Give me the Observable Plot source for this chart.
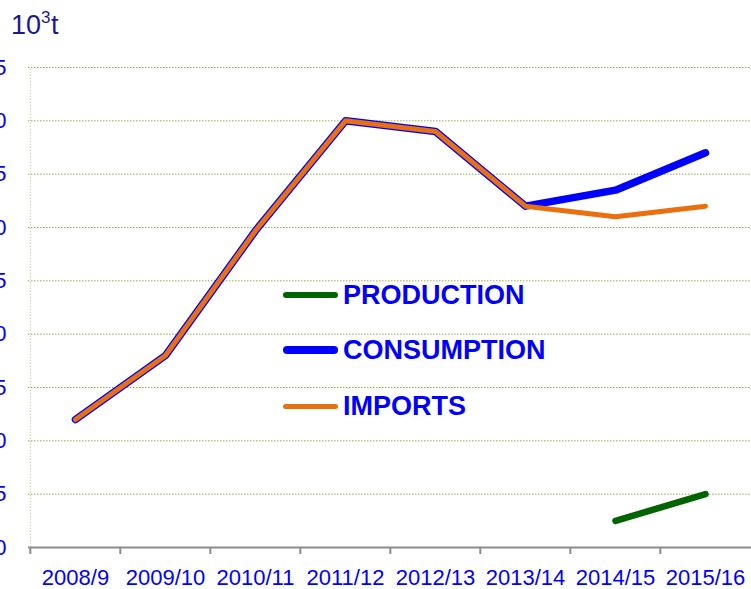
<!DOCTYPE html>
<html>
<head>
<meta charset="utf-8">
<script src="https://cdn.jsdelivr.net/npm/d3@7"></script>
<script src="https://cdn.jsdelivr.net/npm/@observablehq/plot@0.6"></script>
<style>
  body { margin: 0; background: #fff; }
  #wrap { position: relative; width: 751px; height: 589px; overflow: hidden; font-family: "Liberation Sans", Arial, sans-serif; }
  #wrap svg { position: absolute; left: 0; top: 0; }
  .tt { position: absolute; line-height: 1; color: #1a1a8e; white-space: nowrap; }
  .lg { position: absolute; left: 343px; font-size: 27px; line-height: 30px; font-weight: bold; color: #0000ff; white-space: nowrap; }
  .sw { position: absolute; left: 283px; width: 55px; border-radius: 4px; }
</style>
</head>
<body>
<div id="wrap"></div>
<script>
const seasons = ["2008/9","2009/10","2010/11","2011/12","2012/13","2013/14","2014/15","2015/16"];
const consumption = [12, 18, 29.7, 40, 39, 32, 33.5, 37];
const imports = [12, 18, 29.7, 40, 39, 32, 31, 32];
const productionSeasons = ["2014/15","2015/16"];
const production = [2.5, 5];
const yTicks = [0,5,10,15,20,25,30,35,40,45];
const legendItems = ["PRODUCTION","CONSUMPTION","IMPORTS"];
const legendColors = ["#006400","#0000ff","#e8700e"];

const consData = seasons.map((s,i)=>({season:s, value:consumption[i]}));
const impData = seasons.map((s,i)=>({season:s, value:imports[i]}));
const prodData = productionSeasons.map((s,i)=>({season:s, value:production[i]}));

const W = 751, H = 589, mL = 28, mR = 0, mT = 67, mB = 42;
const step = (W - mL - mR) / seasons.length;

const chart = Plot.plot({
  width: W, height: H,
  marginLeft: mL, marginRight: mR, marginTop: mT, marginBottom: mB,
  style: {fontFamily: "Liberation Sans, Arial, sans-serif", background: "transparent", overflow: "visible"},
  x: {type: "point", domain: seasons, padding: 0.5, label: null},
  y: {domain: [0, 45], label: null},
  marks: [
    Plot.gridY(yTicks.slice(1), {stroke: "#8fb04a", strokeOpacity: 1, strokeWidth: 1, strokeDasharray: "1.5,1.5"}),
    Plot.ruleX([seasons[0]], {dx: -step/2, y1: 0, y2: 45, stroke: "#c4d79b", strokeDasharray: "1.5,1.5"}),
    Plot.ruleY([0], {stroke: "#8c8c8c", strokeWidth: 2}),
    Plot.axisX({tickSize: 7, dx: -step/2, stroke: "#8c8c8c", strokeWidth: 2, text: null}),
    Plot.axisX({tickSize: 0, tickPadding: 22, fontSize: 22, fill: "#0000ff"}),
    Plot.axisY({ticks: yTicks, tickSize: 0, tickPadding: 22, fontSize: 22, fill: "#0000ff"}),
    Plot.line(consData, {x: "season", y: "value", stroke: "#0000ff", strokeWidth: 7.5, strokeLinecap: "round", strokeLinejoin: "round"}),
    Plot.line(impData, {x: "season", y: "value", stroke: "#e8700e", strokeWidth: 5, strokeLinecap: "round", strokeLinejoin: "round"}),
    Plot.line(prodData, {x: "season", y: "value", stroke: "#006400", strokeWidth: 6.5, strokeLinecap: "round", strokeLinejoin: "round"})
  ]
});

const wrap = document.getElementById("wrap");
wrap.appendChild(chart);

function addText(txt, left, top, size) {
  const d = document.createElement("div");
  d.className = "tt";
  d.textContent = txt;
  d.style.left = left + "px";
  d.style.top = top + "px";
  d.style.fontSize = size + "px";
  wrap.appendChild(d);
}
addText("10", 11, 12, 27);
addText("3", 41, 9, 17);
addText("t", 51, 12, 27);

const centers = [295, 350, 406];
const swW = [6, 8, 5];
legendItems.forEach((name, i) => {
  const sw = document.createElement("div");
  sw.className = "sw";
  sw.style.background = legendColors[i];
  sw.style.height = swW[i] + "px";
  sw.style.top = (centers[i] - swW[i]/2) + "px";
  wrap.appendChild(sw);
  const t = document.createElement("div");
  t.className = "lg";
  t.textContent = name;
  t.style.top = (centers[i] - 15) + "px";
  wrap.appendChild(t);
});
</script>
</body>
</html>
